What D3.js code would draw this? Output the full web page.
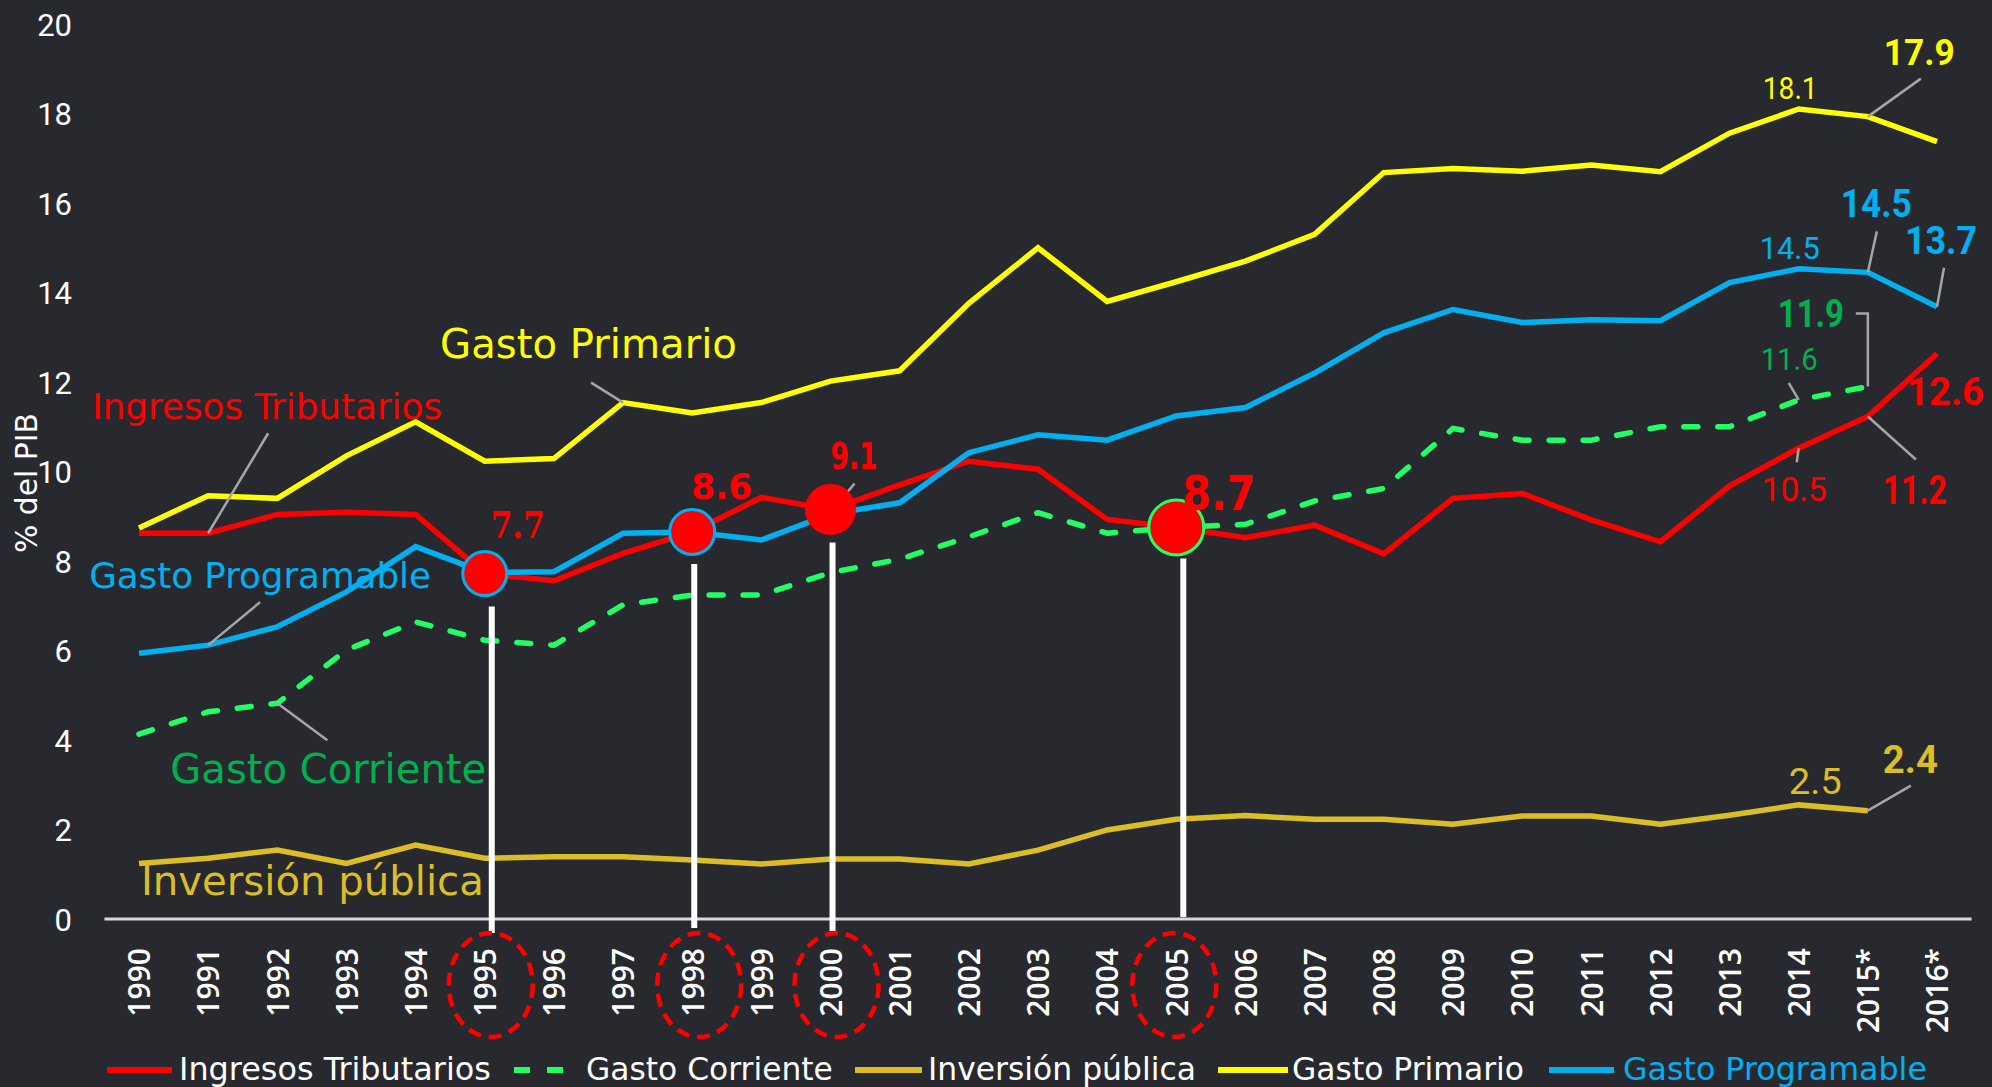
<!DOCTYPE html>
<html><head><meta charset="utf-8">
<script src="https://cdn.jsdelivr.net/npm/d3@7"></script>
<style>
html,body{margin:0;padding:0;background:#28292e;}
svg{display:block;}
</style></head><body>
<svg id="chart" width="1992" height="1087"></svg>
<script>
// ---------------- DATA ----------------
const years = ["1990","1991","1992","1993","1994","1995","1996","1997","1998","1999","2000","2001","2002","2003","2004","2005","2006","2007","2008","2009","2010","2011","2012","2013","2014","2015*","2016*"];
const yTicks = [0,2,4,6,8,10,12,14,16,18,20];
const ingresosTributarios = [8.62,8.62,9.04,9.09,9.04,7.72,7.56,8.17,8.65,9.42,9.15,9.70,10.23,10.05,8.93,8.75,8.52,8.80,8.16,9.40,9.51,8.92,8.43,9.68,10.52,11.23,12.63];
const gastoCorriente = [4.13,4.63,4.82,6.01,6.64,6.23,6.12,7.02,7.24,7.24,7.74,8.04,8.54,9.08,8.62,8.75,8.82,9.34,9.62,10.96,10.70,10.70,11.00,11.00,11.60,11.90,null];
const inversionPublica = [1.24,1.36,1.54,1.24,1.65,1.36,1.39,1.39,1.32,1.23,1.34,1.34,1.23,1.54,1.99,2.23,2.31,2.23,2.23,2.12,2.30,2.30,2.12,2.32,2.55,2.42,null];
const gastoPrimario = [8.74,9.46,9.40,10.35,11.11,10.23,10.29,11.54,11.31,11.54,12.02,12.25,13.76,15.00,13.80,14.24,14.70,15.30,16.68,16.77,16.71,16.85,16.70,17.56,18.10,17.93,17.37];
const gastoProgramable = [5.94,6.12,6.53,7.31,8.32,7.74,7.76,8.62,8.65,8.47,9.05,9.30,10.42,10.82,10.70,11.24,11.43,12.20,13.10,13.62,13.33,13.39,13.37,14.22,14.53,14.45,13.68];
const seriesNames = ["Ingresos Tributarios","Gasto Corriente","Inversión pública","Gasto Primario","Gasto Programable"];
const highlightYears = ["1995","1998","2000","2005"];
const highlightLabels = ["7.7","8.6","9.1","8.7"];

// ---------------- STYLE / LAYOUT ----------------
const BG = "#28292e";
const C = {red:"#ff0000", green:"#22ff66", greenText:"#00b050", gold:"#dbbd26", yellow:"#ffff00", blue:"#00b0f0", grey:"#a6a6a6"};
const series = [
  {name:seriesNames[0], values:ingresosTributarios, color:C.red, dash:null},
  {name:seriesNames[1], values:gastoCorriente, color:C.green, dash:"14,20"},
  {name:seriesNames[2], values:inversionPublica, color:C.gold, dash:null},
  {name:seriesNames[3], values:gastoPrimario, color:C.yellow, dash:null},
  {name:seriesNames[4], values:gastoProgramable, color:C.blue, dash:null}
];

const svg = d3.select("#chart");
svg.append("rect").attr("width",1992).attr("height",1087).attr("fill",BG);

const x = d3.scalePoint().domain(years).range([139,1937]);
const y = d3.scaleLinear().domain([0,20]).range([919,24]);

function fitWidth(sel, w){
  const n = sel.node();
  const fs = parseFloat(sel.style("font-size"));
  const cur = n.getComputedTextLength();
  if (cur > 0) sel.style("font-size", (fs*w/cur)+"px");
  return sel;
}
function squeeze(sel, w){
  sel.attr("textLength", w).attr("lengthAdjust","spacingAndGlyphs");
  return sel;
}

// Y axis
const gy = svg.append("g").attr("transform","translate(72,0)")
  .call(d3.axisLeft(y).tickValues(yTicks).tickSize(0).tickPadding(0).tickFormat(d3.format("d")));
gy.select(".domain").remove();
gy.selectAll("text").attr("fill","#ffffff").style("font-family","Roboto, sans-serif").style("font-size","31px").attr("dy","0.36em");

const yTitle = svg.append("text").attr("transform","translate(37,483) rotate(-90)")
  .attr("text-anchor","middle").attr("fill","#ffffff")
  .style("font-family","'DejaVu Sans', sans-serif").style("font-size","28px")
  .text("% del PIB");
fitWidth(yTitle,140);

// X axis
const gx = svg.append("g").attr("transform",`translate(0,${y(0)})`)
  .call(d3.axisBottom(x).tickSize(0).tickPadding(0));
gx.select(".domain").remove();
gx.append("line").attr("x1",x(years[0])-x.step()/2).attr("x2",x(years[years.length-1])+x.step()/2)
  .attr("stroke","#d9d9d9").attr("stroke-width",3);
gx.selectAll(".tick text")
  .attr("transform","rotate(-90)").attr("x",-29).attr("y",0).attr("dy","0.36em")
  .attr("text-anchor","end").attr("fill","#ffffff")
  .style("font-family","'Open Sans', 'DejaVu Sans', sans-serif").style("font-weight","600").style("font-size","30px");

// Lines
const line = d3.line().defined(d=>d.v!=null).x(d=>x(d.year)).y(d=>y(d.v));
series.forEach(s=>{
  const pts = years.map((yr,i)=>({year:yr, v:s.values[i]}));
  svg.append("path").datum(pts).attr("d",line)
    .attr("fill","none").attr("stroke",s.color).attr("stroke-width",5.5)
    .attr("stroke-linejoin","miter").attr("stroke-linecap",s.dash?"round":"butt")
    .attr("stroke-dasharray",s.dash);
});

function pt(si, year){ const i = years.indexOf(year); return [x(year), y(series[si].values[i])]; }

// Annotations (offsets relative to the anchor data point)
// fs: font size chosen for cap height; w: target width
const annotations = [
  {t:"Gasto Primario", s:3, yr:"1997", dx:-183, dy:-45, w:297, color:C.yellow, font:"DejaVu Sans", weight:"normal", fit:true, lead:[[-32,-20]]},
  {t:"Ingresos Tributarios", s:0, yr:"1991", dx:-116, dy:-114, w:350, color:C.red, font:"DejaVu Sans", weight:"normal", fit:true, lead:[[60,-100]]},
  {t:"Gasto Programable", s:4, yr:"1991", dx:-119, dy:-57, w:342, color:C.blue, font:"DejaVu Sans", weight:"normal", fit:true, lead:[[52,-43]]},
  {t:"Gasto Corriente", s:1, yr:"1992", dx:-107, dy:80, w:316, color:C.greenText, font:"DejaVu Sans", weight:"normal", fit:true, lead:[[50,37]]},
  {t:"Inversión pública", s:2, yr:"1990", dx:2, dy:31, w:343, color:C.gold, font:"DejaVu Sans", weight:"normal", fit:true, lead:null},
  {t:"18.1", s:3, yr:"2014", dx:-36, dy:-10, w:55, fs:31, color:C.yellow, font:"Roboto", weight:"normal", lead:null},
  {t:"17.9", s:3, yr:"2015*", dx:16, dy:-52, w:71, fs:37, color:C.yellow, font:"Roboto", weight:"bold", lead:[[53,-38]]},
  {t:"14.5", s:4, yr:"2014", dx:-39, dy:-10, w:60, fs:31, color:C.blue, font:"Roboto", weight:"normal", lead:null},
  {t:"14.5", s:4, yr:"2015*", dx:-27, dy:-55, w:71, fs:38, color:C.blue, font:"Roboto", weight:"bold", lead:[[9,-41]]},
  {t:"13.7", s:4, yr:"2016*", dx:-32, dy:-53, w:72, fs:39, color:C.blue, font:"Roboto", weight:"bold", lead:[[7,-39]]},
  {t:"11.9", s:1, yr:"2015*", dx:-90, dy:-59, w:66, fs:39, color:C.greenText, font:"Roboto", weight:"bold", lead:[[-12,-73],[0,-73]]},
  {t:"11.6", s:1, yr:"2014", dx:-38, dy:-30, w:57, fs:31, color:C.greenText, font:"Roboto", weight:"normal", lead:[[-10,-17]]},
  {t:"12.6", s:0, yr:"2016*", dx:-30, dy:51, w:77, fs:39, color:C.red, font:"Roboto", weight:"bold", lead:null},
  {t:"10.5", s:0, yr:"2014", dx:-37, dy:53, w:65, fs:33, color:C.red, font:"Roboto", weight:"normal", lead:[[-2,14]]},
  {t:"11.2", s:0, yr:"2015*", dx:15, dy:88, w:64, fs:40, color:C.red, font:"Roboto", weight:"bold", lead:[[48,43]]},
  {t:"2.5", s:2, yr:"2014", dx:-10, dy:-11, w:53, fs:36, color:C.gold, font:"Roboto", weight:"normal", lead:null},
  {t:"2.4", s:2, yr:"2015*", dx:15, dy:-38, w:55, fs:39, color:C.gold, font:"Roboto", weight:"bold", lead:[[43,-25]]}
];

const gLead = svg.append("g");
annotations.forEach(a=>{
  if(!a.lead) return;
  const [px,py] = pt(a.s,a.yr);
  const ptsL = a.lead.map(o=>[px+o[0],py+o[1]]).concat([[px,py]]);
  gLead.append("path").attr("d",d3.line()(ptsL)).attr("fill","none")
    .attr("stroke",C.grey).attr("stroke-width",2.5);
});

// Highlights: circles, white drop lines, dashed ellipses around years
const hl = [
  {r:22, stroke:C.blue, lineDx:7, lineTop:33, lineBottom:14, ellDx:6, lab:{dx:6, dy:-36, w:54, fs:37, font:"DejaVu Serif", lead:null}},
  {r:22.5, stroke:C.blue, lineDx:2, lineTop:32, lineBottom:9, ellDx:7, lab:{dx:-1, dy:-33, w:61, fs:36, font:"DejaVu Sans", lead:null}},
  {r:24, stroke:C.red, lineDx:2, lineTop:33, lineBottom:12, ellDx:6, lab:{dx:0, dy:-41, w:47, fs:38, font:"DejaVu Sans", lead:[24,-26]}},
  {r:27.5, stroke:C.green, lineDx:7, lineTop:31, lineBottom:-2, ellDx:-2, lab:{dx:6, dy:-17, w:73, fs:48, font:"DejaVu Sans", lead:null}}
];
highlightYears.forEach((yr,k)=>{
  const h = hl[k];
  const [px,py] = pt(0,yr);
  if(h.lab.lead){
    svg.append("line").attr("x1",px+h.lab.lead[0]).attr("y1",py+h.lab.lead[1]).attr("x2",px).attr("y2",py+3)
      .attr("stroke",C.grey).attr("stroke-width",2.5);
  }
  svg.append("circle").attr("cx",px).attr("cy",py).attr("r",h.r)
    .attr("fill",C.red).attr("stroke",h.stroke).attr("stroke-width",3);
  svg.append("line").attr("x1",px+h.lineDx).attr("x2",px+h.lineDx)
    .attr("y1",py+h.lineTop).attr("y2",y(0)+h.lineBottom)
    .attr("stroke","#ffffff").attr("stroke-width",6);
  svg.append("ellipse").attr("cx",px+h.ellDx).attr("cy",y(0)+66).attr("rx",42).attr("ry",52)
    .attr("fill","none").attr("stroke",C.red).attr("stroke-width",4.5).attr("stroke-dasharray","13,8");
  const t = svg.append("text").attr("x",px+h.lab.dx).attr("y",py+h.lab.dy)
    .attr("fill",C.red).style("font-family",`'${h.lab.font}', sans-serif`).style("font-weight","bold")
    .style("font-size",h.lab.fs+"px").text(highlightLabels[k]);
  squeeze(t,h.lab.w);
});

annotations.forEach(a=>{
  const [px,py] = pt(a.s,a.yr);
  const t = svg.append("text").attr("x",px+a.dx).attr("y",py+a.dy)
    .attr("fill",a.color).style("font-family",`'${a.font}', sans-serif`)
    .style("font-weight",a.weight).style("font-size",(a.fs||30)+"px").text(a.t);
  if(a.fit) fitWidth(t,a.w); else squeeze(t,a.w);
});

// Legend
const legendLayout = [
  {line:[107,172], tx:179, tw:312, textColor:"#ffffff", dash:null},
  {line:[514,568], tx:586, tw:247, textColor:"#ffffff", dash:"16,17"},
  {line:[855,922], tx:928, tw:268, textColor:"#ffffff", dash:null},
  {line:[1218,1288], tx:1292, tw:232, textColor:"#ffffff", dash:null},
  {line:[1549,1614], tx:1623, tw:304, textColor:C.blue, dash:null}
];
const gLeg = svg.append("g");
series.forEach((s,i)=>{
  const L = legendLayout[i];
  gLeg.append("line").attr("x1",L.line[0]).attr("x2",L.line[1]).attr("y1",1070).attr("y2",1070)
    .attr("stroke",s.color).attr("stroke-width",6).attr("stroke-dasharray",L.dash);
  const t = gLeg.append("text").attr("x",L.tx).attr("y",1080).attr("fill",L.textColor)
    .style("font-family","'DejaVu Sans', sans-serif").style("font-size","30px").text(s.name);
  fitWidth(t,L.tw);
});
</script>
</body></html>
